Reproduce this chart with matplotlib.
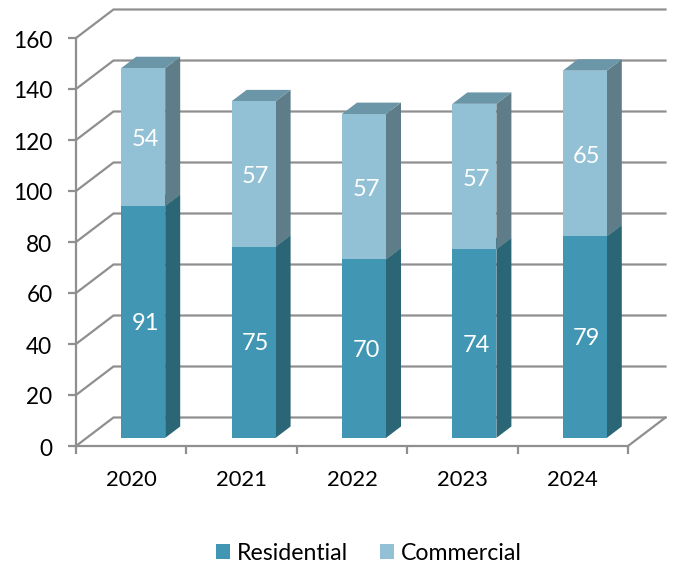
import matplotlib
matplotlib.use("Agg")
import matplotlib.pyplot as plt
from matplotlib.patches import Polygon, Patch
from matplotlib.transforms import ScaledTranslation
import numpy as np

plt.rcParams["font.family"] = ["Lato", "DejaVu Sans"]

years = ["2020", "2021", "2022", "2023", "2024"]
residential = [91, 75, 70, 74, 79]
commercial = [54, 57, 57, 57, 65]
y_ticks = list(range(0, 161, 20))

W, H = 673, 563
GRID = "#8F8F8F"
TEXT = "#000000"
RES_FRONT, RES_SIDE, RES_TOP = "#4197B3", "#2A6675", "#327A90"
COM_FRONT, COM_SIDE, COM_TOP = "#92C1D5", "#5E7D89", "#6A96A8"

fig = plt.figure(figsize=(W / 100, H / 100), dpi=100, facecolor="white")
left, right, top, bottom = 76, 628, 38, 446
slot = (right - left) / 5
unit = (bottom - top) / 160
ax = fig.add_axes([left / W, 1 - bottom / H, (right - left) / W, (bottom - top) / H])
ax.set_xlim(-0.5, 4.5)
ax.set_ylim(0, 160)
ax.patch.set_visible(False)

# Oblique depth expressed in data units
depth_x = 37.5 / slot
depth_y = 28.5 / unit


def project(x, y, d):
    return (x + d * depth_x, y + d * depth_y)


# Back wall, floor and the gridlines folding round the left wall
for v in y_ticks:
    a = project(-0.5, v, 0)
    b = project(-0.5, v, 1)
    c = project(4.5, v, 1)
    ax.plot([a[0], b[0], c[0]], [a[1], b[1], c[1]], color=GRID, lw=1.6,
            clip_on=False, zorder=1, solid_joinstyle="miter")
fl = project(4.5, 0, 0)
br = project(4.5, 0, 1)
ax.plot([fl[0], br[0]], [fl[1], br[1]], color=GRID, lw=1.6, clip_on=False, zorder=1)

# Stacked 3D columns, drawn left to right
bar_w = 44 / slot
front_d = 0.285
bar_d = 0.40
shift = 12 / slot
lift_val = front_d * depth_y


def box(cx, y0, y1, front, side, roof):
    xl, xr = cx - bar_w / 2, cx + bar_w / 2
    p = lambda x, y, d: project(x, y + lift_val, d)
    ax.add_patch(Polygon([p(xr, y0, 0), p(xr, y0, bar_d), p(xr, y1, bar_d), p(xr, y1, 0)],
                         fc=side, ec="none", clip_on=False, zorder=3))
    ax.add_patch(Polygon([p(xl, y1, 0), p(xr, y1, 0), p(xr, y1, bar_d), p(xl, y1, bar_d)],
                         fc=roof, ec="none", clip_on=False, zorder=3))
    ax.add_patch(Polygon([p(xl, y0, 0), p(xr, y0, 0), p(xr, y1, 0), p(xl, y1, 0)],
                         fc=front, ec="none", clip_on=False, zorder=4))


for i, (r, c) in enumerate(zip(residential, commercial)):
    cx = i + shift
    box(cx, 0, r, RES_FRONT, RES_SIDE, RES_TOP)
    box(cx, r, r + c, COM_FRONT, COM_SIDE, COM_TOP)
    label_x = cx + 2 / slot
    ax.text(label_x, r / 2 + lift_val - 0.6, str(r), color="white", fontsize=17,
            ha="center", va="center", zorder=6)
    ax.text(label_x, r + c / 2 + lift_val - 1.0, str(c), color="white", fontsize=17,
            ha="center", va="center", zorder=6)

# Axes, with category ticks at the slot boundaries
for name in ("top", "right"):
    ax.spines[name].set_visible(False)
for name in ("left", "bottom"):
    ax.spines[name].set_color(GRID)
    ax.spines[name].set_linewidth(1.6)
    ax.spines[name].set_zorder(2)

ax.set_yticks(y_ticks)
ax.set_xticks(range(len(years)))
ax.set_xticklabels(years)
ax.set_xticks(np.arange(-0.5, 5, 1), minor=True)
ax.tick_params(axis="y", length=6, width=1.6, color=GRID, pad=11, labelsize=16.3, labelcolor=TEXT)
ax.tick_params(axis="x", which="major", length=0, pad=17, labelsize=15.8, labelcolor=TEXT)
ax.tick_params(axis="x", which="minor", length=6, width=1.6, color=GRID)

# Nudge the value labels down a pixel so they sit level with their ticks
nudge = ScaledTranslation(0, -1 / 100, fig.dpi_scale_trans)
for label in ax.get_yticklabels():
    label.set_transform(label.get_transform() + nudge)

handles = [Patch(fc=RES_FRONT, ec="none", label="Residential"),
           Patch(fc=COM_FRONT, ec="none", label="Commercial")]
fig.legend(handles=handles, loc="center", bbox_to_anchor=(369 / W, 1 - 553.5 / H),
           ncol=2, frameon=False, fontsize=16.7, labelcolor=TEXT,
           handlelength=0.6, handleheight=0.6, handletextpad=0.3, columnspacing=1.38,
           borderpad=0, borderaxespad=0)

fig.savefig("out.png", dpi=100, facecolor="white")
